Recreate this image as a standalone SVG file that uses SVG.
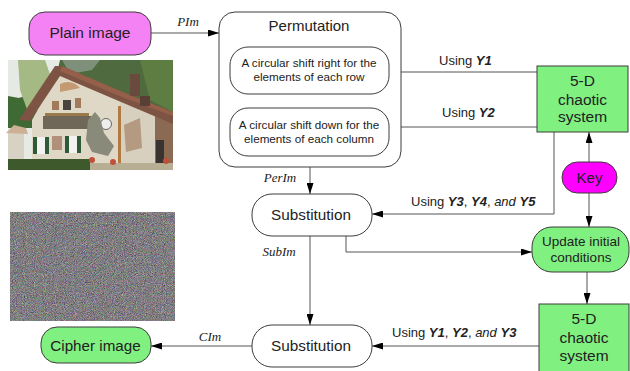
<svg xmlns="http://www.w3.org/2000/svg" width="630" height="371" viewBox="0 0 630 371">
<style>
.box{stroke:#3c3c3c;stroke-width:1}
.wb{fill:#fff}
.gr{fill:#80f080}
.conn{stroke:#555;stroke-width:1;fill:none}
.t{font-family:"Liberation Sans",Arial,sans-serif;fill:#222;text-anchor:middle}
.lab{font-family:"Liberation Serif","Times New Roman",serif;font-style:italic;fill:#222;font-size:13px}
.u{font-family:"Liberation Sans",Arial,sans-serif;fill:#222;font-size:13px}
.b{font-weight:bold;font-style:italic}
</style>
<defs>
<marker id="ah" viewBox="0 0 11 7" refX="11" refY="3.5" markerWidth="11" markerHeight="7" markerUnits="userSpaceOnUse" orient="auto">
<path d="M0,0 L11,3.5 L0,7 z" fill="#000"/>
</marker>
<filter id="noise" filterUnits="userSpaceOnUse" x="10" y="212" width="165" height="109" color-interpolation-filters="sRGB">
<feTurbulence type="fractalNoise" baseFrequency="1.1" numOctaves="2" seed="7" result="n"/>
<feColorMatrix in="n" type="matrix" values="0.62 0.14 0.14 0 0.05  0.14 0.62 0.14 0 0.04  0.14 0.14 0.62 0 0.055  0 0 0 0 1"/>
</filter>
</defs>
<rect width="630" height="371" fill="#fff"/>

<!-- photo of house -->
<g id="photo">
<rect x="8" y="60" width="165" height="110" fill="#e6eae4"/>
<path d="M60,60 L173,60 L173,128 L8,128 L8,100 C25,98 40,90 55,82 Z" fill="#4f6a3e"/>
<path d="M62,60 L100,60 L92,70 L70,74 Z" fill="#7e8f7a"/>
<path d="M8,96 L8,128 L35,128 L30,100 Z" fill="#3f6a34"/>
<path d="M18,60 L45,60 L52,80 L42,110 L28,112 L20,90 Z" fill="#a4b984"/>
<path d="M140,60 L173,60 L173,112 L150,100 Z" fill="#5d7d42"/>
<rect x="8" y="131" width="16" height="30" fill="#d8d2c4"/>
<path d="M6,133 L14,125 L26,128 L28,134 Z" fill="#cdb096"/>
<path d="M32,162 L32,120 L58,74 L120,100 L120,163 Z" fill="#e0d8c6"/>
<path d="M120,100 L155,114 L155,165 L120,165 Z" fill="#d8d0be"/>
<path d="M155,114 L173,120 L173,165 L155,165 Z" fill="#8a6a52"/>
<path d="M19,120 L55,66 L62,66 L125,93 L173,112 L173,124 L121,102 L60,76 L30,121 Z" fill="#7d5444"/>
<path d="M62,66 L125,93 L173,112 L173,116 L122,97 L60,71 Z" fill="#955f4a"/>
<rect x="130" y="74" width="10" height="22" fill="#6a4a3c"/>
<rect x="140" y="96" width="10" height="10" fill="#5a4034"/>
<rect x="43" y="116" width="48" height="13" fill="#6f6858"/>
<rect x="45" y="113" width="44" height="3" fill="#9a7a4a"/>
<rect x="52" y="101" width="7" height="9" fill="#a07a5a"/>
<rect x="63" y="100" width="8" height="10" fill="#4a4440"/>
<rect x="75" y="98" width="6" height="10" fill="#a07a5a"/>
<path d="M60,84 C68,80 75,82 80,88 L60,92 Z" fill="#c49a72"/>
<rect x="33" y="137" width="4" height="17" fill="#2f5a3a"/>
<rect x="37" y="137" width="8" height="17" fill="#f2f2f0"/>
<rect x="45" y="137" width="4" height="17" fill="#2f5a3a"/>
<rect x="52" y="136" width="10" height="14" fill="#b0907a"/>
<rect x="65" y="136" width="4" height="17" fill="#2f5a3a"/>
<rect x="69" y="136" width="8" height="17" fill="#f2f2f0"/>
<rect x="77" y="136" width="4" height="17" fill="#2f5a3a"/>
<circle cx="106" cy="124" r="5.5" fill="#eeeeee" stroke="#666" stroke-width="1"/>
<path d="M88,120 L95,112 L100,118 L104,133 L114,146 L108,156 L92,152 L86,140 Z" fill="#8a8a7a"/>
<path d="M124,125 L140,118 L142,148 L126,152 Z" fill="#b39a80"/>
<rect x="118" y="106" width="3" height="58" fill="#b07a40"/>
<rect x="156" y="140" width="8" height="25" fill="#3a3430"/>
<rect x="8" y="159" width="82" height="11" fill="#3e5a2c"/>
<rect x="90" y="163" width="83" height="7" fill="#b8ae94"/>
<circle cx="92" cy="160" r="3" fill="#c0503a"/>
<circle cx="113" cy="162" r="3" fill="#c0503a"/>
<circle cx="166" cy="161" r="3" fill="#c0503a"/>
</g>

<!-- encrypted noise image -->
<g id="noiseimg">
<rect x="10" y="212" width="165" height="109" fill="#7f7d80" filter="url(#noise)"/>
</g>

<g id="connectors">
<line class="conn" x1="151" y1="33" x2="219" y2="33" marker-end="url(#ah)"/>
<line class="conn" x1="537" y1="72" x2="389" y2="72" marker-end="url(#ah)"/>
<line class="conn" x1="537" y1="127" x2="389" y2="127" marker-end="url(#ah)"/>
<line class="conn" x1="310" y1="167" x2="310" y2="194" marker-end="url(#ah)"/>
<polyline class="conn" points="554,132 554,214 372,214" marker-end="url(#ah)"/>
<line class="conn" x1="589" y1="162" x2="589" y2="132" marker-end="url(#ah)"/>
<line class="conn" x1="589" y1="193" x2="589" y2="227" marker-end="url(#ah)"/>
<polyline class="conn" points="346,236 346,252 532,252" marker-end="url(#ah)"/>
<line class="conn" x1="587" y1="272" x2="587" y2="304" marker-end="url(#ah)"/>
<line class="conn" x1="310" y1="236" x2="310" y2="325" marker-end="url(#ah)"/>
<line class="conn" x1="539" y1="346" x2="372" y2="346" marker-end="url(#ah)"/>
<line class="conn" x1="252" y1="346" x2="151" y2="346" marker-end="url(#ah)"/>
<text class="lab" x="188" y="26" text-anchor="middle">PIm</text>
<text class="lab" x="280" y="182" text-anchor="middle">PerIm</text>
<text class="lab" x="279" y="256" text-anchor="middle">SubIm</text>
<text class="lab" x="210" y="341" text-anchor="middle">CIm</text>
<text class="u" x="439" y="65">Using <tspan class="b">Y1</tspan></text>
<text class="u" x="442" y="117">Using <tspan class="b">Y2</tspan></text>
<text class="u" x="411" y="206">Using <tspan class="b">Y3</tspan>, <tspan class="b">Y4</tspan>, <tspan font-style="italic">and</tspan> <tspan class="b">Y5</tspan></text>
<text class="u" x="392" y="337">Using <tspan class="b">Y1</tspan>, <tspan class="b">Y2</tspan>, <tspan font-style="italic">and</tspan> <tspan class="b">Y3</tspan></text>
</g>

<g id="plain">
<rect class="box" x="29" y="12" width="122" height="43" rx="16" fill="#f582f5"/>
<text class="t" x="90" y="38" font-size="15.5">Plain image</text>
</g>

<g id="permutation">
<rect class="box wb" x="219" y="12" width="182" height="155" rx="16"/>
<text class="t" x="309" y="31" font-size="15">Permutation</text>
</g>
<g id="shiftrow">
<rect class="box wb" x="230" y="47" width="159" height="47" rx="18"/>
<text class="t" x="309" y="67" font-size="11.7">A circular shift right for the</text>
<text class="t" x="309" y="81" font-size="11.7">elements of each row</text>
</g>
<g id="shiftcol">
<rect class="box wb" x="230" y="108" width="159" height="48" rx="18"/>
<text class="t" x="309" y="129" font-size="11.7">A circular shift down for the</text>
<text class="t" x="309" y="143" font-size="11.7">elements of each column</text>
</g>

<g id="chaotic1">
<rect class="box gr" x="537" y="66" width="91" height="66"/>
<text class="t" x="582.5" y="86" font-size="15.5">5-D</text>
<text class="t" x="582.5" y="104.5" font-size="15.5">chaotic</text>
<text class="t" x="582.5" y="122" font-size="15.5">system</text>
</g>

<g id="key">
<rect class="box" x="562" y="162" width="55" height="31" rx="15.5" fill="#ff00ff" stroke="#cc00cc"/>
<text class="t" x="589.5" y="183" font-size="15">Key</text>
</g>

<g id="subst1">
<rect class="box wb" x="252" y="194" width="120" height="42" rx="20"/>
<text class="t" x="311" y="220" font-size="15.3">Substitution</text>
</g>

<g id="update">
<rect class="box gr" x="532" y="227" width="97" height="45" rx="20"/>
<text class="t" x="581" y="246" font-size="13.5">Update initial</text>
<text class="t" x="581" y="262" font-size="13.5">conditions</text>
</g>

<g id="subst2">
<rect class="box wb" x="252" y="325" width="120" height="42" rx="20"/>
<text class="t" x="311" y="351" font-size="15.3">Substitution</text>
</g>

<g id="chaotic2">
<rect class="box gr" x="539" y="304" width="90" height="75" stroke-width="1.5"/>
<text class="t" x="584" y="324" font-size="15.5">5-D</text>
<text class="t" x="584" y="342.5" font-size="15.5">chaotic</text>
<text class="t" x="584" y="361" font-size="15.5">system</text>
</g>

<g id="cipher">
<rect class="box gr" x="41" y="327" width="110" height="36" rx="16"/>
<text class="t" x="95.5" y="351" font-size="15.2">Cipher image</text>
</g>
</svg>
